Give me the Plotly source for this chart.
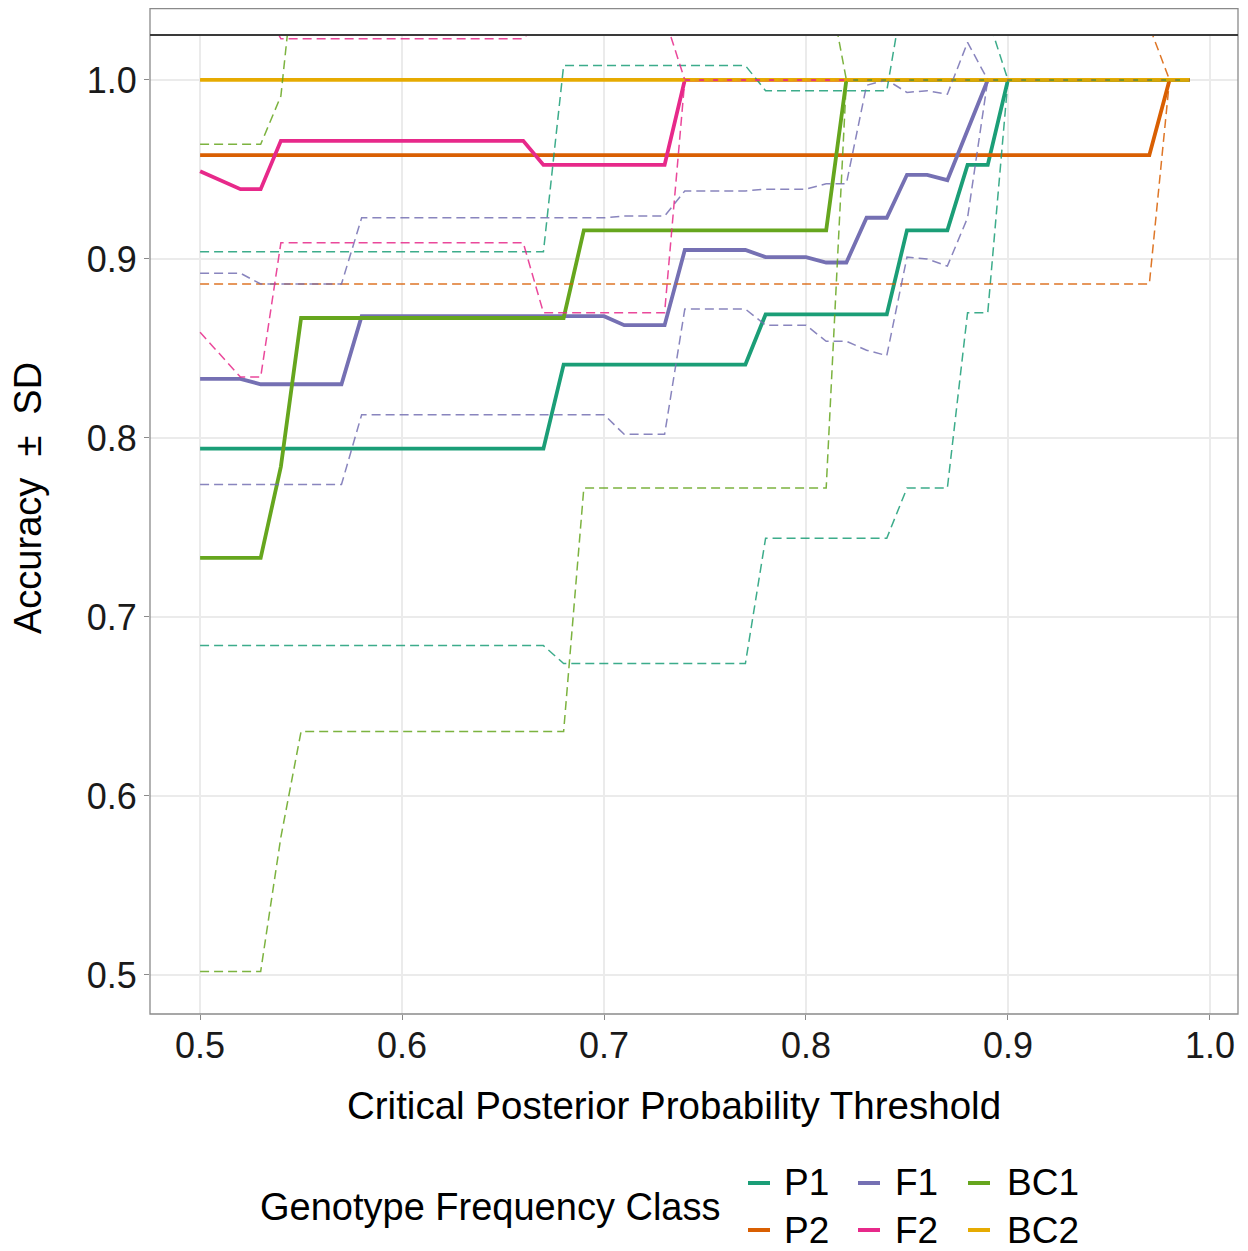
import plotly.graph_objects as go

# ---------------- data ----------------
threshold = [0.50, 0.51, 0.52, 0.53, 0.54, 0.55, 0.56, 0.57, 0.58, 0.59,
             0.60, 0.61, 0.62, 0.63, 0.64, 0.65, 0.66, 0.67, 0.68, 0.69,
             0.70, 0.71, 0.72, 0.73, 0.74, 0.75, 0.76, 0.77, 0.78, 0.79,
             0.80, 0.81, 0.82, 0.83, 0.84, 0.85, 0.86, 0.87, 0.88, 0.89,
             0.90, 0.91, 0.92, 0.93, 0.94, 0.95, 0.96, 0.97, 0.98, 0.99]

classes = ["P1", "P2", "F1", "F2", "BC1", "BC2"]
colors = ["#1B9E77", "#D95F02", "#7570B3", "#E7298A", "#66A61E", "#E6AB02"]

mean_P1 = [0.794, 0.794, 0.794, 0.794, 0.794, 0.794, 0.794, 0.794, 0.794, 0.794,
           0.794, 0.794, 0.794, 0.794, 0.794, 0.794, 0.794, 0.794, 0.841, 0.841,
           0.841, 0.841, 0.841, 0.841, 0.841, 0.841, 0.841, 0.841, 0.869, 0.869,
           0.869, 0.869, 0.869, 0.869, 0.869, 0.916, 0.916, 0.916, 0.9525, 0.9525,
           1.0, 1.0, 1.0, 1.0, 1.0, 1.0, 1.0, 1.0, 1.0, 1.0]
sd_P1 = [0.110, 0.110, 0.110, 0.110, 0.110, 0.110, 0.110, 0.110, 0.110, 0.110,
         0.110, 0.110, 0.110, 0.110, 0.110, 0.110, 0.110, 0.110, 0.167, 0.167,
         0.167, 0.167, 0.167, 0.167, 0.167, 0.167, 0.167, 0.167, 0.125, 0.125,
         0.125, 0.125, 0.125, 0.125, 0.125, 0.144, 0.144, 0.144, 0.0825, 0.0825,
         0.0, 0.0, 0.0, 0.0, 0.0, 0.0, 0.0, 0.0, 0.0, 0.0]

mean_P2 = [0.958, 0.958, 0.958, 0.958, 0.958, 0.958, 0.958, 0.958, 0.958, 0.958,
           0.958, 0.958, 0.958, 0.958, 0.958, 0.958, 0.958, 0.958, 0.958, 0.958,
           0.958, 0.958, 0.958, 0.958, 0.958, 0.958, 0.958, 0.958, 0.958, 0.958,
           0.958, 0.958, 0.958, 0.958, 0.958, 0.958, 0.958, 0.958, 0.958, 0.958,
           0.958, 0.958, 0.958, 0.958, 0.958, 0.958, 0.958, 0.958, 1.0, 1.0]
sd_P2 = [0.072, 0.072, 0.072, 0.072, 0.072, 0.072, 0.072, 0.072, 0.072, 0.072,
         0.072, 0.072, 0.072, 0.072, 0.072, 0.072, 0.072, 0.072, 0.072, 0.072,
         0.072, 0.072, 0.072, 0.072, 0.072, 0.072, 0.072, 0.072, 0.072, 0.072,
         0.072, 0.072, 0.072, 0.072, 0.072, 0.072, 0.072, 0.072, 0.072, 0.072,
         0.072, 0.072, 0.072, 0.072, 0.072, 0.072, 0.072, 0.072, 0.0, 0.0]

mean_F1 = [0.833, 0.833, 0.833, 0.830, 0.830, 0.830, 0.830, 0.830, 0.868, 0.868,
           0.868, 0.868, 0.868, 0.868, 0.868, 0.868, 0.868, 0.868, 0.868, 0.868,
           0.868, 0.863, 0.863, 0.863, 0.905, 0.905, 0.905, 0.905, 0.901, 0.901,
           0.901, 0.898, 0.898, 0.923, 0.923, 0.947, 0.947, 0.944, 0.972, 1.0,
           1.0, 1.0, 1.0, 1.0, 1.0, 1.0, 1.0, 1.0, 1.0, 1.0]
sd_F1 = [0.059, 0.059, 0.059, 0.056, 0.056, 0.056, 0.056, 0.056, 0.055, 0.055,
         0.055, 0.055, 0.055, 0.055, 0.055, 0.055, 0.055, 0.055, 0.055, 0.055,
         0.055, 0.061, 0.061, 0.061, 0.033, 0.033, 0.033, 0.033, 0.038, 0.038,
         0.038, 0.044, 0.044, 0.074, 0.077, 0.046, 0.047, 0.048, 0.049, 0.0,
         0.0, 0.0, 0.0, 0.0, 0.0, 0.0, 0.0, 0.0, 0.0, 0.0]

mean_F2 = [0.949, 0.944, 0.939, 0.939, 0.966, 0.966, 0.966, 0.966, 0.966, 0.966,
           0.966, 0.966, 0.966, 0.966, 0.966, 0.966, 0.966, 0.9525, 0.9525, 0.9525,
           0.9525, 0.9525, 0.9525, 0.9525, 1.0, 1.0, 1.0, 1.0, 1.0, 1.0,
           1.0, 1.0, 1.0, 1.0, 1.0, 1.0, 1.0, 1.0, 1.0, 1.0,
           1.0, 1.0, 1.0, 1.0, 1.0, 1.0, 1.0, 1.0, 1.0, 1.0]
sd_F2 = [0.090, 0.0975, 0.105, 0.105, 0.057, 0.057, 0.057, 0.057, 0.057, 0.057,
         0.057, 0.057, 0.057, 0.057, 0.057, 0.057, 0.057, 0.0825, 0.0825, 0.0825,
         0.0825, 0.0825, 0.0825, 0.0825, 0.0, 0.0, 0.0, 0.0, 0.0, 0.0,
         0.0, 0.0, 0.0, 0.0, 0.0, 0.0, 0.0, 0.0, 0.0, 0.0,
         0.0, 0.0, 0.0, 0.0, 0.0, 0.0, 0.0, 0.0, 0.0, 0.0]

mean_BC1 = [0.733, 0.733, 0.733, 0.733, 0.784, 0.867, 0.867, 0.867, 0.867, 0.867,
            0.867, 0.867, 0.867, 0.867, 0.867, 0.867, 0.867, 0.867, 0.867, 0.916,
            0.916, 0.916, 0.916, 0.916, 0.916, 0.916, 0.916, 0.916, 0.916, 0.916,
            0.916, 0.916, 1.0, 1.0, 1.0, 1.0, 1.0, 1.0, 1.0, 1.0,
            1.0, 1.0, 1.0, 1.0, 1.0, 1.0, 1.0, 1.0, 1.0, 1.0]
sd_BC1 = [0.231, 0.231, 0.231, 0.231, 0.207, 0.231, 0.231, 0.231, 0.231, 0.231,
          0.231, 0.231, 0.231, 0.231, 0.231, 0.231, 0.231, 0.231, 0.231, 0.144,
          0.144, 0.144, 0.144, 0.144, 0.144, 0.144, 0.144, 0.144, 0.144, 0.144,
          0.144, 0.144, 0.0, 0.0, 0.0, 0.0, 0.0, 0.0, 0.0, 0.0,
          0.0, 0.0, 0.0, 0.0, 0.0, 0.0, 0.0, 0.0, 0.0, 0.0]

mean_BC2 = [1.0, 1.0, 1.0, 1.0, 1.0, 1.0, 1.0, 1.0, 1.0, 1.0,
            1.0, 1.0, 1.0, 1.0, 1.0, 1.0, 1.0, 1.0, 1.0, 1.0,
            1.0, 1.0, 1.0, 1.0, 1.0, 1.0, 1.0, 1.0, 1.0, 1.0,
            1.0, 1.0, 1.0, 1.0, 1.0, 1.0, 1.0, 1.0, 1.0, 1.0,
            1.0, 1.0, 1.0, 1.0, 1.0, 1.0, 1.0, 1.0, 1.0, 1.0]
sd_BC2 = [0.0, 0.0, 0.0, 0.0, 0.0, 0.0, 0.0, 0.0, 0.0, 0.0,
          0.0, 0.0, 0.0, 0.0, 0.0, 0.0, 0.0, 0.0, 0.0, 0.0,
          0.0, 0.0, 0.0, 0.0, 0.0, 0.0, 0.0, 0.0, 0.0, 0.0,
          0.0, 0.0, 0.0, 0.0, 0.0, 0.0, 0.0, 0.0, 0.0, 0.0,
          0.0, 0.0, 0.0, 0.0, 0.0, 0.0, 0.0, 0.0, 0.0, 0.0]

x_ticks = [0.5, 0.6, 0.7, 0.8, 0.9, 1.0]
x_ticktext = ["0.5", "0.6", "0.7", "0.8", "0.9", "1.0"]
y_ticks = [0.5, 0.6, 0.7, 0.8, 0.9, 1.0]
y_ticktext = ["0.5", "0.6", "0.7", "0.8", "0.9", "1.0"]

means = [mean_P1, mean_P2, mean_F1, mean_F2, mean_BC1, mean_BC2]
sds = [sd_P1, sd_P2, sd_F1, sd_F2, sd_BC1, sd_BC2]

# ---------------- figure ----------------
# The page body has an 8px margin, so the figure is laid out in page
# coordinates minus that offset.
OFF = 8
W, H = 1248 - OFF, 1251 - OFF
PLOT_L, PLOT_R, PLOT_T, PLOT_B = 150, 1238, 35, 1014   # page pixels
L = PLOT_L - OFF
R = W - (PLOT_R - OFF)
T = PLOT_T - OFF
B = H - (PLOT_B - OFF)
PW, PH = W - L - R, H - T - B
FONT = "Liberation Sans, Arial, sans-serif"


def px(xp):
    """page x pixel -> paper x"""
    return (xp - PLOT_L) / PW


def py(yp):
    """page y pixel -> paper y"""
    return (PLOT_B - yp) / PH


fig = go.Figure()

# solid mean lines
for name, col, m in zip(classes, colors, means):
    fig.add_trace(go.Scatter(x=threshold, y=m, mode="lines", name=name,
                             line=dict(color=col, width=3.8),
                             showlegend=False, hoverinfo="skip"))

# dashed mean +/- SD lines
for name, col, m, s in zip(classes, colors, means, sds):
    upper = [a + b for a, b in zip(m, s)]
    lower = [a - b for a, b in zip(m, s)]
    for yy in (upper, lower):
        fig.add_trace(go.Scatter(x=threshold, y=yy, mode="lines",
                                 line=dict(color=col, width=1.5, dash="9px,5px"),
                                 opacity=0.85, showlegend=False, hoverinfo="skip"))

axis_common = dict(showgrid=True, gridcolor="#ebebeb", gridwidth=1.5,
                   zeroline=False, ticks="outside", ticklen=5, tickwidth=1.3,
                   tickcolor="#8a8a8a", showline=False,
                   tickfont=dict(family=FONT, size=36, color="#1a1a1a"))

fig.update_xaxes(range=[0.4752, 1.0139], tickmode="array", tickvals=x_ticks,
                 ticktext=x_ticktext, ticklabelstandoff=-5, **axis_common)
fig.update_yaxes(range=[0.4782, 1.0251], tickmode="array", tickvals=y_ticks,
                 ticktext=y_ticktext, **axis_common)

shapes = []
# outer panel border (extends above plot area like an empty strip)
shapes.append(dict(type="rect", xref="paper", yref="paper", x0=0, x1=1,
                   y0=0, y1=py(8.7), line=dict(color="#8a8a8a", width=1.3),
                   layer="above"))
# dark line at the top of the plotting region
shapes.append(dict(type="line", xref="paper", yref="paper", x0=0, x1=1,
                   y0=1, y1=1, line=dict(color="#3a3a3a", width=2),
                   layer="above"))

annotations = []
# axis titles
annotations.append(dict(text="Critical Posterior Probability Threshold",
                        xref="paper", yref="paper", x=px(674), y=py(1105),
                        xanchor="center", yanchor="middle", showarrow=False,
                        font=dict(family=FONT, size=38.5, color="#000")))
annotations.append(dict(text="Accuracy \u00a0±\u00a0 SD",
                        xref="paper", yref="paper", x=px(28), y=py(498),
                        xanchor="center", yanchor="middle", showarrow=False,
                        textangle=-90,
                        font=dict(family=FONT, size=38, color="#000")))

# legend (manual, 2 rows x 3 columns, column-major like ggplot)
annotations.append(dict(text="Genotype Frequency Class", xref="paper", yref="paper",
                        x=px(258), y=py(1207), xanchor="left", yanchor="middle",
                        showarrow=False, font=dict(family=FONT, size=38, color="#000")))
key_x = [748, 858, 968]
text_x = [782, 893, 1005]
row_y = [1183, 1230]
for i, (name, col) in enumerate(zip(classes, colors)):
    c, r = i // 2, i % 2
    shapes.append(dict(type="line", xref="paper", yref="paper",
                       x0=px(key_x[c]), x1=px(key_x[c] + 22),
                       y0=py(row_y[r]), y1=py(row_y[r]),
                       line=dict(color=col, width=4)))
    annotations.append(dict(text=name, xref="paper", yref="paper",
                            x=px(text_x[c]), y=py(row_y[r]),
                            xanchor="left", yanchor="middle", showarrow=False,
                            font=dict(family=FONT, size=37, color="#000")))

fig.update_layout(width=W, height=H, margin=dict(l=L, r=R, t=T, b=B, pad=0),
                  plot_bgcolor="white", paper_bgcolor="white",
                  shapes=shapes, annotations=annotations, showlegend=False)

fig.write_html("out.html")
